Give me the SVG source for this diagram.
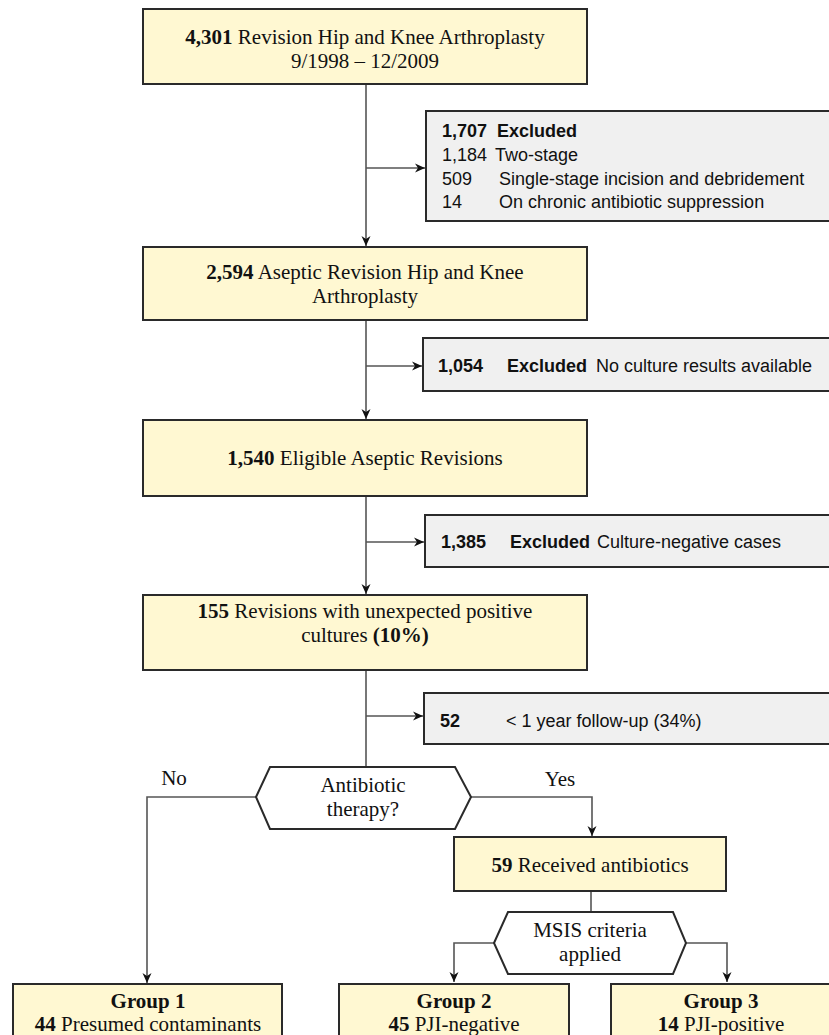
<svg xmlns="http://www.w3.org/2000/svg" width="829" height="1035" viewBox="0 0 829 1035">
<defs>
<marker id="arr" viewBox="0 0 10 10" refX="10" refY="5" markerWidth="10" markerHeight="10" markerUnits="userSpaceOnUse" orient="auto">
<path d="M0,0.5 L10,5 L0,9.5 L3,5 z" fill="#111"/>
</marker>
<style>
.yb{fill:#FFF8D2;stroke:#2a2a2a;stroke-width:2}
.gb{fill:#F0F0F0;stroke:#2a2a2a;stroke-width:2}
.hx{fill:#FFFFFF;stroke:#2a2a2a;stroke-width:2}
.sf{font-family:"Liberation Serif","Times New Roman",serif;font-size:21px;fill:#111;text-anchor:middle}
.ss{font-family:"Liberation Sans",Arial,sans-serif;font-size:18px;fill:#111}
.b{font-weight:bold}
.ln{fill:none;stroke:#555;stroke-width:1.6}
</style>
</defs>
<rect width="829" height="1035" fill="#FFFFFF"/>
<g id="connectors">
<path class="ln" d="M366,84 V246" marker-end="url(#arr)"/>
<path class="ln" d="M366,168 H425" marker-end="url(#arr)"/>
<path class="ln" d="M366,320 V419" marker-end="url(#arr)"/>
<path class="ln" d="M366,366 H422" marker-end="url(#arr)"/>
<path class="ln" d="M366,496 V594" marker-end="url(#arr)"/>
<path class="ln" d="M366,542 H424" marker-end="url(#arr)"/>
<path class="ln" d="M366,670 V767"/>
<path class="ln" d="M366,716 H423" marker-end="url(#arr)"/>
<path class="ln" d="M256,797 H147 V983" marker-end="url(#arr)"/>
<path class="ln" d="M471,797 H592 V836" marker-end="url(#arr)"/>
<path class="ln" d="M591,891 V912"/>
<path class="ln" d="M494,943 H454 V982" marker-end="url(#arr)"/>
<path class="ln" d="M686,943 H727 V982" marker-end="url(#arr)"/>
</g>
<g id="n-total">
<rect class="yb" x="143" y="9" width="444" height="75"/>
<text class="sf" x="365" y="44"><tspan class="b">4,301</tspan> Revision Hip and Knee Arthroplasty</text>
<text class="sf" x="365" y="68">9/1998 – 12/2009</text>
</g>
<g id="n-excl1">
<rect class="gb" x="426" y="111" width="414" height="110"/>
<text class="ss b" x="442" y="137">1,707</text>
<text class="ss b" x="497" y="137">Excluded</text>
<text class="ss" x="442" y="161">1,184</text>
<text class="ss" x="495" y="161">Two-stage</text>
<text class="ss" x="442" y="185">509</text>
<text class="ss" x="499" y="185">Single-stage incision and debridement</text>
<text class="ss" x="442" y="208">14</text>
<text class="ss" x="499" y="208">On chronic antibiotic suppression</text>
</g>
<g id="n-aseptic">
<rect class="yb" x="143" y="247" width="444" height="73"/>
<text class="sf" x="365" y="279"><tspan class="b">2,594</tspan> Aseptic Revision Hip and Knee</text>
<text class="sf" x="365" y="303">Arthroplasty</text>
</g>
<g id="n-excl2">
<rect class="gb" x="423" y="338" width="417" height="53"/>
<text class="ss b" x="438" y="372">1,054</text>
<text class="ss b" x="507" y="372">Excluded</text>
<text class="ss" x="596" y="372">No culture results available</text>
</g>
<g id="n-eligible">
<rect class="yb" x="143" y="420" width="444" height="76"/>
<text class="sf" x="365" y="465"><tspan class="b">1,540</tspan> Eligible Aseptic Revisions</text>
</g>
<g id="n-excl3">
<rect class="gb" x="425" y="515" width="415" height="52"/>
<text class="ss b" x="441" y="548">1,385</text>
<text class="ss b" x="510" y="548">Excluded</text>
<text class="ss" x="597" y="548">Culture-negative cases</text>
</g>
<g id="n-positive">
<rect class="yb" x="143" y="595" width="444" height="75"/>
<text class="sf" x="365" y="618"><tspan class="b">155</tspan> Revisions with unexpected positive</text>
<text class="sf" x="365" y="642">cultures <tspan class="b">(10%)</tspan></text>
</g>
<g id="n-excl4">
<rect class="gb" x="424" y="693" width="416" height="51"/>
<text class="ss b" x="440" y="727">52</text>
<text class="ss" x="506" y="727">&lt; 1 year follow-up (34%)</text>
</g>
<g id="n-antibiotic">
<polygon class="hx" points="256,797 270,767 455,767 471,797 455,829 270,829"/>
<text class="sf" x="363" y="792">Antibiotic</text>
<text class="sf" x="363" y="816">therapy?</text>
</g>
<text class="sf" x="174" y="785">No</text>
<text class="sf" x="560" y="786">Yes</text>
<g id="n-received">
<rect class="yb" x="454" y="837" width="272" height="54"/>
<text class="sf" x="590" y="872"><tspan class="b">59</tspan> Received antibiotics</text>
</g>
<g id="n-msis">
<polygon class="hx" points="494,943 508,912 673,912 686,943 673,974 508,974"/>
<text class="sf" x="590" y="937">MSIS criteria</text>
<text class="sf" x="590" y="961">applied</text>
</g>
<g id="n-group1">
<rect class="yb" x="13" y="984" width="269" height="60"/>
<text class="sf b" x="148" y="1008">Group 1</text>
<text class="sf" x="148" y="1031"><tspan class="b">44</tspan> Presumed contaminants</text>
</g>
<g id="n-group2">
<rect class="yb" x="339" y="984" width="230" height="60"/>
<text class="sf b" x="454" y="1008">Group 2</text>
<text class="sf" x="454" y="1031"><tspan class="b">45</tspan> PJI-negative</text>
</g>
<g id="n-group3">
<rect class="yb" x="611" y="984" width="225" height="60"/>
<text class="sf b" x="721" y="1008">Group 3</text>
<text class="sf" x="721" y="1031"><tspan class="b">14</tspan> PJI-positive</text>
</g>
</svg>
